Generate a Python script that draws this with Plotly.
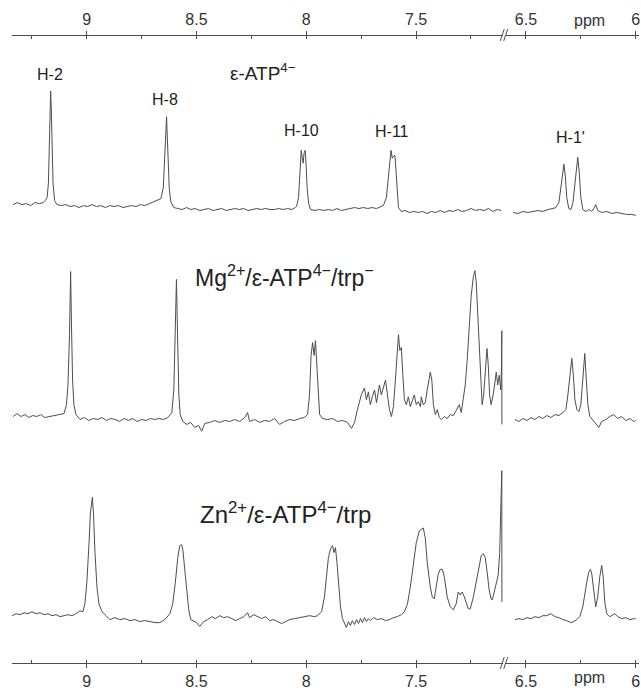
import plotly.graph_objects as go

# --- 1H NMR traces: chemical shift (ppm) and intensity (arbitrary units, baseline = 0)
# Left panel covers ~9.34-7.11 ppm, right panel ~6.56-6.00 ppm (axis break in between).

# epsilon-ATP(4-) alone
atp_left_ppm = [9.335, 9.315, 9.295, 9.275, 9.255, 9.235, 9.215, 9.198, 9.189, 9.180, 9.174, 9.169, 9.165, 9.164,
                9.161, 9.158, 9.153, 9.146, 9.135, 9.115, 9.095, 9.075, 9.055, 9.035, 9.015, 8.995, 8.975, 8.955,
                8.935, 8.915, 8.895, 8.875, 8.855, 8.835, 8.815, 8.795, 8.775, 8.755, 8.735, 8.715, 8.695, 8.662,
                8.651, 8.644, 8.640, 8.636, 8.634, 8.629, 8.624, 8.617, 8.603, 8.585, 8.565, 8.545, 8.525, 8.505,
                8.485, 8.465, 8.445, 8.425, 8.405, 8.385, 8.365, 8.345, 8.325, 8.305, 8.285, 8.265, 8.245, 8.225,
                8.205, 8.185, 8.165, 8.145, 8.125, 8.105, 8.085, 8.065, 8.050, 8.044, 8.035, 8.028, 8.023, 8.018,
                8.014, 8.010, 8.005, 8.001, 7.996, 7.989, 7.980, 7.960, 7.940, 7.920, 7.900, 7.880, 7.860, 7.840,
                7.820, 7.800, 7.780, 7.760, 7.740, 7.720, 7.700, 7.680, 7.660, 7.649, 7.635, 7.626, 7.619, 7.614,
                7.608, 7.603, 7.596, 7.592, 7.587, 7.580, 7.567, 7.550, 7.530, 7.510, 7.490, 7.470, 7.450, 7.430,
                7.410, 7.390, 7.370, 7.350, 7.330, 7.310, 7.290, 7.270, 7.250, 7.230, 7.210, 7.190, 7.170, 7.150,
                7.130, 7.112]
atp_left_int = [3, 5, 3, 4, 2, 5, 4, 5, 7, 10, 25, 60, 100, 118,
                100, 60, 25, 7, 3, 2, 3, 1, 2, 0, 2, 1, 3, 1,
                2, 0, 2, 1, 2, 0, 1, 2, 1, 3, 2, 4, 6, 9,
                20, 50, 80, 92, 80, 50, 20, 6, 0, -1, -2, 0, -2, -1,
                -3, -2, -1, -3, -2, -1, -3, -2, -1, -2, -1, -3, -2, -1,
                -2, -1, -2, -2, -1, -2, -1, -2, 0, 1, 10, 35, 58, 50,
                45, 55, 58, 45, 20, 4, -2, -3, -2, -3, -2, -3, -1, -3,
                -2, -1, 0, -1, 0, -1, 0, -1, 1, 2, 10, 30, 50, 58,
                50, 52, 53, 40, 15, 0, -4, -3, -5, -4, -5, -4, -6, -4,
                -5, -3, -5, -3, -4, -2, -4, -3, -1, -3, -2, -3, -1, -4,
                -2, -3]
atp_right_ppm = [6.559, 6.536, 6.514, 6.491, 6.468, 6.445, 6.423, 6.400, 6.377, 6.364, 6.350, 6.341, 6.334, 6.327,
                 6.320, 6.314, 6.305, 6.295, 6.286, 6.277, 6.270, 6.264, 6.257, 6.250, 6.241, 6.227, 6.214, 6.200,
                 6.191, 6.182, 6.173, 6.155, 6.132, 6.109, 6.086, 6.064, 6.041, 6.018, 6.000]
atp_right_int = [-5, -6, -4, -5, -4, -3, -4, -2, -1, 0, 5, 20, 35, 44,
                 30, 10, -1, -2, 5, 25, 40, 51, 35, 10, -2, -4, -2, -4,
                 -1, 3, -3, -5, -4, -6, -5, -6, -7, -7, -8]

# Mg(2+) / epsilon-ATP(4-) / trp(-)
mg_left_ppm = [9.335, 9.317, 9.299, 9.281, 9.263, 9.245, 9.227, 9.209, 9.191, 9.168, 9.145, 9.121, 9.103, 9.092,
               9.085, 9.078, 9.073, 9.069, 9.064, 9.058, 9.049, 9.030, 9.010, 8.990, 8.970, 8.950, 8.930, 8.910,
               8.890, 8.870, 8.850, 8.830, 8.810, 8.790, 8.770, 8.750, 8.730, 8.710, 8.690, 8.670, 8.650, 8.630,
               8.612, 8.603, 8.596, 8.591, 8.586, 8.580, 8.574, 8.562, 8.544, 8.526, 8.508, 8.490, 8.476, 8.462,
               8.439, 8.417, 8.394, 8.371, 8.349, 8.326, 8.303, 8.280, 8.267, 8.258, 8.235, 8.212, 8.189, 8.167,
               8.144, 8.121, 8.099, 8.076, 8.053, 8.030, 8.008, 7.994, 7.985, 7.978, 7.971, 7.964, 7.958, 7.951,
               7.944, 7.939, 7.926, 7.903, 7.880, 7.858, 7.835, 7.812, 7.794, 7.780, 7.767, 7.749, 7.735, 7.726,
               7.717, 7.708, 7.699, 7.689, 7.680, 7.667, 7.658, 7.649, 7.639, 7.630, 7.621, 7.612, 7.603, 7.594,
               7.585, 7.580, 7.574, 7.567, 7.560, 7.553, 7.544, 7.535, 7.526, 7.517, 7.508, 7.499, 7.490, 7.480,
               7.476, 7.467, 7.458, 7.449, 7.439, 7.435, 7.428, 7.421, 7.412, 7.403, 7.394, 7.385, 7.371, 7.358,
               7.344, 7.330, 7.317, 7.308, 7.303, 7.294, 7.285, 7.276, 7.267, 7.258, 7.249, 7.239, 7.232, 7.226,
               7.219, 7.212, 7.205, 7.199, 7.192, 7.185, 7.177, 7.171, 7.165, 7.158, 7.149, 7.139, 7.135, 7.128,
               7.121, 7.114, 7.111, 7.1095, 7.1090]
mg_left_int = [1, 4, 1, 3, 0, 2, 1, 3, 0, 1, 2, 3, 4, 13,
               33, 83, 148, 93, 38, 13, 3, -2, 0, -3, -1, -2, 0, -3,
               -1, -2, -4, -1, -3, -1, -4, -2, -3, -1, -2, -1, -2, 0,
               5, 28, 83, 140, 83, 23, 3, -4, -7, -5, -10, -8, -14, -6,
               -5, -3, -5, -3, -4, -2, -4, 0, 5, -4, -2, -5, -3, -4,
               -1, -7, -4, -2, -3, -1, 0, 3, 23, 63, 76, 63, 78, 53,
               18, 3, -1, -2, -1, -4, -3, -5, -11, -5, 8, 23, 30, 18,
               26, 13, 21, 28, 15, 33, 23, 31, 38, 23, 8, 1, 11, 38,
               73, 84, 68, 71, 43, 18, 13, 21, 11, 18, 23, 13, 16, 11,
               21, 13, 15, 28, 43, 46, 38, 13, 3, 8, 0, -2, 1, -1,
               3, 2, 7, 11, 13, 5, 18, 33, 58, 93, 123, 143, 149, 138,
               103, 63, 28, 13, 23, 48, 70, 53, 23, 13, 23, 38, 46, 33,
               43, 28, 50, 88, -7]
mg_right_ppm = [6.550, 6.532, 6.514, 6.495, 6.477, 6.459, 6.441, 6.423, 6.405, 6.386, 6.368, 6.350, 6.332, 6.318,
                6.309, 6.300, 6.291, 6.284, 6.277, 6.268, 6.259, 6.250, 6.241, 6.232, 6.225, 6.218, 6.209, 6.195,
                6.182, 6.168, 6.155, 6.136, 6.118, 6.100, 6.082, 6.064, 6.045, 6.027, 6.009, 6.000]
mg_right_int = [-2, -4, -1, -3, 0, -2, 1, -1, 2, 0, 3, 2, 5, 8,
                23, 43, 60, 43, 18, 8, 6, 13, 38, 65, 38, 13, 1, -3,
                -6, -10, -4, -2, 1, 3, -1, 1, -3, -1, -4, -3]

# Zn(2+) / epsilon-ATP(4-) / trp
zn_left_ppm = [9.339, 9.321, 9.303, 9.285, 9.267, 9.249, 9.230, 9.212, 9.194, 9.176, 9.158, 9.139, 9.121, 9.103,
               9.085, 9.067, 9.049, 9.030, 9.017, 9.008, 8.999, 8.989, 8.983, 8.974, 8.969, 8.962, 8.953, 8.944,
               8.930, 8.912, 8.894, 8.871, 8.849, 8.826, 8.803, 8.780, 8.758, 8.735, 8.712, 8.689, 8.667, 8.644,
               8.621, 8.608, 8.596, 8.585, 8.576, 8.568, 8.562, 8.553, 8.544, 8.535, 8.526, 8.512, 8.499, 8.485,
               8.467, 8.449, 8.430, 8.412, 8.394, 8.376, 8.358, 8.339, 8.321, 8.303, 8.285, 8.267, 8.258, 8.239,
               8.221, 8.203, 8.185, 8.167, 8.149, 8.130, 8.112, 8.094, 8.076, 8.053, 8.030, 8.008, 7.985, 7.962,
               7.949, 7.930, 7.917, 7.908, 7.899, 7.889, 7.880, 7.874, 7.867, 7.860, 7.853, 7.844, 7.835, 7.826,
               7.817, 7.808, 7.799, 7.790, 7.780, 7.771, 7.762, 7.753, 7.744, 7.735, 7.726, 7.717, 7.708, 7.694,
               7.676, 7.658, 7.639, 7.621, 7.603, 7.585, 7.567, 7.553, 7.539, 7.526, 7.512, 7.499, 7.485, 7.467,
               7.458, 7.449, 7.435, 7.426, 7.417, 7.408, 7.399, 7.390, 7.380, 7.371, 7.358, 7.344, 7.330, 7.317,
               7.308, 7.299, 7.290, 7.280, 7.271, 7.262, 7.253, 7.239, 7.226, 7.212, 7.203, 7.194, 7.185, 7.176,
               7.167, 7.158, 7.153, 7.144, 7.135, 7.126, 7.119, 7.114, 7.1095, 7.1090]
zn_left_int = [1, 3, 2, 4, 3, 5, 3, 4, 2, 3, 1, 2, 0, 1,
               2, 1, 3, 6, 5, 13, 35, 75, 105, 121, 105, 65, 30, 13,
               5, 1, -3, -1, -3, -2, -4, -3, -5, -4, -5, -6, -6, -3,
               3, 13, 35, 60, 72, 73, 68, 45, 25, 7, -3, -5, -6, -10,
               -5, -3, 0, -2, 1, -1, 0, -2, -4, -2, 0, 4, -1, 2,
               0, -2, 0, -4, -3, -5, -7, -5, -3, -2, -1, 0, 1, 0,
               1, 5, 20, 40, 60, 69, 72, 65, 70, 55, 30, 10, -2, -7,
               -11, -5, -9, -4, -8, -3, -7, -2, -6, -1, -5, -2, -4, -1,
               -3, -2, -4, -3, -1, 0, 2, 5, 13, 30, 55, 75, 87, 90,
               80, 55, 30, 20, 18, 30, 43, 48, 48, 40, 20, 10, 7, 13,
               25, 22, 25, 20, 13, 8, 8, 20, 35, 53, 62, 64, 60, 45,
               27, 18, 17, 25, 35, 42, 65, 105, 148, 15]
zn_right_ppm = [6.550, 6.532, 6.514, 6.495, 6.477, 6.459, 6.441, 6.423, 6.405, 6.386, 6.368, 6.350, 6.332, 6.314,
                6.295, 6.282, 6.268, 6.255, 6.241, 6.232, 6.223, 6.214, 6.206, 6.200, 6.191, 6.182, 6.173, 6.164,
                6.155, 6.148, 6.141, 6.132, 6.118, 6.105, 6.095, 6.082, 6.064, 6.045, 6.027, 6.009, 6.000]
zn_right_int = [-3, -2, -3, -1, -2, 0, -1, 1, 1, 3, 0, -1, -3, -4,
                -6, -5, -3, 0, 10, 25, 35, 45, 48, 43, 25, 10, 20, 40,
                52, 40, 15, 3, 0, 2, 3, 0, -2, -1, -3, -2, -2]

# Spectrum titles and peak assignments
titles = ["ε-ATP<sup>4−</sup>",
          "Mg<sup>2+</sup>/ε-ATP<sup>4−</sup>/trp<sup>−</sup>",
          "Zn<sup>2+</sup>/ε-ATP<sup>4−</sup>/trp"]
assign_names = ["H-2", "H-8", "H-10", "H-11", "H-1'"]
assign_ppm = [9.167, 8.641, 8.021, 7.608, 6.295]
assign_panel = ["x", "x", "x", "x", "x2"]

# Axis ticks
left_ticks = [9.25, 9.0, 8.75, 8.5, 8.25, 8.0, 7.75, 7.5, 7.25]
left_ticktext = ["", "9", "", "8.5", "", "8", "", "7.5", ""]
right_ticks = [6.5, 6.25, 6.0]
right_ticktext = ["6.5", "", "6"]

# ---------------------------------------------------------------- layout constants
W, H = 641, 690
M_TOP, M_BOT = 35, 18
PLOT_H = H - M_TOP - M_BOT
LEFT_DOM = [12 / W, 504 / W]
RIGHT_DOM = [507 / W, 640 / W]
LEFT_RANGE = [9.34, 7.103]
RIGHT_RANGE = [6.59, 5.985]
ROW_DOMS = [[0.686, 1.0], [0.3485, 0.686], [0.0, 0.3485]]
ROW_RANGES = [[-25, 175], [-27, 188], [-47, 175]]

LINE = "#4d4d4d"
TXT = "#333333"
FONT = "Liberation Sans"

fig = go.Figure()
spectra = [
    (atp_left_ppm, atp_left_int, atp_right_ppm, atp_right_int),
    (mg_left_ppm, mg_left_int, mg_right_ppm, mg_right_int),
    (zn_left_ppm, zn_left_int, zn_right_ppm, zn_right_int),
]
for i, (lp, li, rp, ri) in enumerate(spectra):
    yname = "y" if i == 0 else f"y{i + 1}"
    fig.add_trace(go.Scatter(x=lp, y=li, xaxis="x", yaxis=yname, mode="lines",
                             line=dict(color=LINE, width=1), hoverinfo="skip", showlegend=False))
    fig.add_trace(go.Scatter(x=rp, y=ri, xaxis="x2", yaxis=yname, mode="lines",
                             line=dict(color=LINE, width=1), hoverinfo="skip", showlegend=False))

# empty traces so the top scale axes get drawn
for xa in ["x3", "x4"]:
    fig.add_trace(go.Scatter(x=[], y=[], xaxis=xa, yaxis="y", mode="lines",
                             hoverinfo="skip", showlegend=False))


def xaxis_style(dom, rng, ticks, text, side, pos, overlay=None):
    d = dict(domain=dom, range=rng, anchor="free", position=pos, side=side,
             showline=True, linecolor=LINE, linewidth=1, showgrid=False, zeroline=False,
             tickmode="array", tickvals=ticks, ticktext=text, ticks="outside", ticklen=4,
             tickcolor=LINE, tickfont=dict(family=FONT, size=16, color=TXT),
             ticklabeloverflow="allow",
             minor=dict(tickvals=ticks, ticks="inside", ticklen=3, tickcolor=LINE),
             fixedrange=True)
    if overlay:
        d["overlaying"] = overlay
    return d


fig.update_layout(
    width=W, height=H,
    margin=dict(l=0, r=0, t=M_TOP, b=M_BOT),
    paper_bgcolor="white", plot_bgcolor="white",
    xaxis=xaxis_style(LEFT_DOM, LEFT_RANGE, left_ticks, left_ticktext, "bottom", 0),
    xaxis2=xaxis_style(RIGHT_DOM, RIGHT_RANGE, right_ticks, right_ticktext, "bottom", 0),
    xaxis3=xaxis_style(LEFT_DOM, LEFT_RANGE, left_ticks, left_ticktext, "top", 1, "x"),
    xaxis4=xaxis_style(RIGHT_DOM, RIGHT_RANGE, right_ticks, right_ticktext, "top", 1, "x2"),
)
for i in range(3):
    key = "yaxis" if i == 0 else f"yaxis{i + 1}"
    fig.layout[key] = dict(domain=ROW_DOMS[i], range=ROW_RANGES[i], visible=False,
                           anchor="x", fixedrange=True)

# "ppm" unit labels on both axes
for ypos, anchor in [(1.0, "bottom"), (0.0, "top")]:
    fig.add_annotation(x=6.21, xref="x2", y=ypos, yref="paper", text="ppm", showarrow=False,
                       yanchor=anchor, yshift=4 if anchor == "bottom" else -4,
                       font=dict(family=FONT, size=16, color=TXT))

# Axis break marks "//"
bx = (LEFT_DOM[1] + RIGHT_DOM[0]) / 2
for ypos in [1.0, 0.0]:
    for dx in [-2.5, 1.0]:
        fig.add_shape(type="line", xref="paper", yref="paper",
                      x0=bx + (dx - 2) / W, x1=bx + (dx + 2) / W,
                      y0=ypos - 6 / PLOT_H, y1=ypos + 6 / PLOT_H,
                      line=dict(color=LINE, width=1))

# Assignment labels on the free ligand spectrum
assign_height = [135, 110, 78, 77, 71]
for name, ppm, panel, h in zip(assign_names, assign_ppm, assign_panel, assign_height):
    fig.add_annotation(x=ppm, xref=panel, y=h, yref="y", text=name, showarrow=False,
                       font=dict(family=FONT, size=16, color="#222222"))

# Spectrum titles
title_pos = [(8.199, "y", 137, 19), (8.099, "y2", 144, 23), (8.096, "y3", 105, 24)]
for t, (xp, yr, yp, fs) in zip(titles, title_pos):
    fig.add_annotation(x=xp, xref="x", y=yp, yref=yr, text=t, showarrow=False,
                       font=dict(family=FONT, size=fs, color="#222222"))

fig.write_html("out.html")
